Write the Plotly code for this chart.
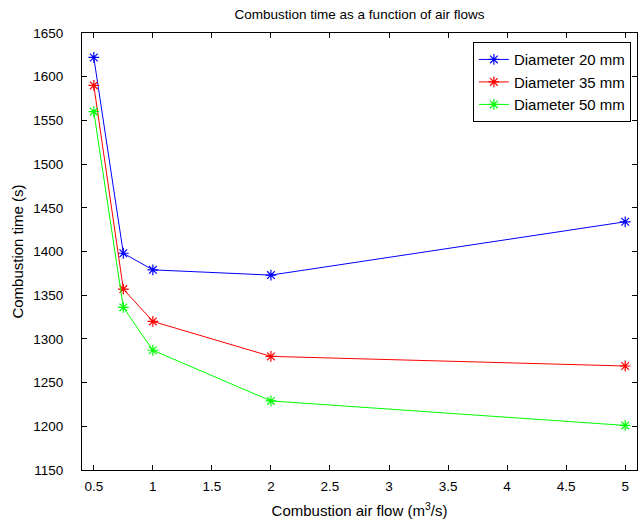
import plotly.graph_objects as go

# Air flow (m^3/s) and measured combustion times (s) per sample diameter
air_flow = [0.5, 0.75, 1, 2, 5]
time_d20 = [1622, 1398, 1379, 1373, 1434]
time_d35 = [1590, 1357, 1320, 1280, 1269]
time_d50 = [1560, 1336, 1287, 1229, 1201]

series = [
    ("Diameter 20 mm", time_d20, "#0000ff"),
    ("Diameter 35 mm", time_d35, "#ff0000"),
    ("Diameter 50 mm", time_d50, "#00ff00"),
]

x_ticks = [0.5, 1, 1.5, 2, 2.5, 3, 3.5, 4, 4.5, 5]
y_ticks = list(range(1150, 1651, 50))

FONT = "Liberation Sans, Arial, sans-serif"

fig = go.Figure()
for name, values, color in series:
    fig.add_trace(go.Scatter(
        x=air_flow, y=values, name=name, mode="lines+markers",
        line=dict(color=color, width=1),
        marker=dict(symbol="asterisk-open", size=9, color=color,
                    line=dict(color=color, width=1.2)),
    ))

axis_common = dict(
    showline=True, linecolor="black", linewidth=1, mirror="ticks",
    ticks="inside", ticklen=5, tickcolor="black", tickwidth=1,
    showgrid=False, zeroline=False,
    tickfont=dict(family=FONT, size=13.5, color="black"),
)

fig.update_layout(
    width=643, height=527,
    margin=dict(l=82, r=6, t=33, b=57),
    paper_bgcolor="white", plot_bgcolor="white",
    font=dict(family=FONT, size=14, color="black"),
    title=dict(text="Combustion time as a function of air flows",
               x=0.5, xref="paper", y=1 - 14 / 527, yanchor="middle",
               font=dict(family=FONT, size=13.5, color="black")),
    xaxis=dict(range=[0.4, 5.1], tickvals=x_ticks,
               ticktext=[f"{v:g}" for v in x_ticks],
               ticklabelstandoff=4,
               title=dict(text="Combustion air flow (m<sup>3</sup>/s)",
                          standoff=12, font=dict(family=FONT, size=15)),
               **axis_common),
    yaxis=dict(range=[1150, 1650], tickvals=y_ticks,
               ticklabelstandoff=15,
               title=dict(text="Combustion time (s)", standoff=6,
                          font=dict(family=FONT, size=15)),
               **axis_common),
    legend=dict(x=0.989, y=0.979, xanchor="right", yanchor="top",
                bordercolor="black", borderwidth=1, bgcolor="white",
                font=dict(family=FONT, size=15, color="black"),
                entrywidth=145, entrywidthmode="pixels",
                tracegroupgap=2),
    showlegend=True,
)

fig.write_html("out.html")
